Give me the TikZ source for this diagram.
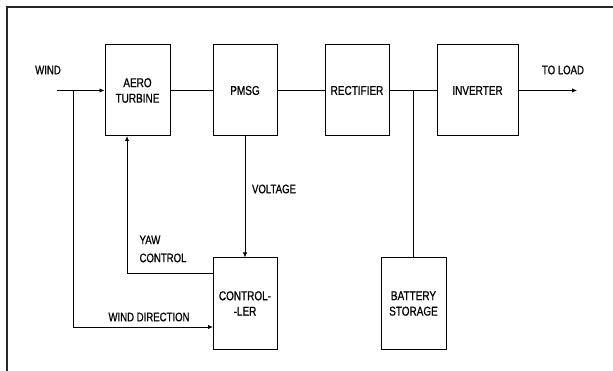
\documentclass[tikz,border=0pt]{standalone}
\usepackage{fontspec}
\setmainfont[FakeStretch=0.78,FakeBold=0.8]{Liberation Sans}
\usetikzlibrary{arrows.meta}
\begin{document}
\begin{tikzpicture}[x=1pt,y=-1pt,
  blk/.style={draw,line width=1pt,minimum height=91pt,inner sep=1pt,align=center,font=\fontsize{12.8}{15.5}\selectfont},
  lbl/.style={font=\fontsize{12.3}{18}\selectfont,inner sep=0pt,align=left},
  wire/.style={line width=0.9pt},
  arr/.style={wire,-{Latex[length=5pt,width=4.5pt]}}]
\useasboundingbox (0,0) rectangle (613,371);
\fill[white] (0,0) rectangle (613,371);
\draw[line width=2pt,black!85] (613,7) -- (7,7) -- (7,371);
\node[blk,minimum width=65pt] (aero) at (137.5,90.5) {AERO\\TURBINE};
\node[blk,minimum width=64pt] (pmsg) at (245,90.5) {PMSG};
\node[blk,minimum width=64pt] (rect) at (357,90.5) {RECTIFIER};
\node[blk,minimum width=81pt] (inv) at (477.5,90.5) {INVERTER};
\node[blk,minimum width=64pt] (ctrl) at (245,303.5) {CONTROL-\\-LER};
\node[blk,minimum width=65pt] (batt) at (413.5,303.5) {BATTERY\\STORAGE};
\coordinate (wstart) at (57,90.5);
\coordinate (wsplit) at (73,90.5);
\coordinate (wdend) at (213,327);
\coordinate (yawstart) at (213,273);
\coordinate (yawend) at (127,136);
\coordinate (bj) at (413.5,90.5);
\coordinate (load) at (577,90.5);
\draw[arr] (wstart) -- (aero.west);
\draw[arr] (wsplit) |- (wdend);
\draw[arr] (yawstart) -| (yawend);
\draw[wire] (aero.east) -- (pmsg.west);
\draw[wire] (pmsg.east) -- (rect.west);
\draw[wire] (rect.east) -- (inv.west);
\draw[arr] (inv.east) -- (load);
\draw[arr] (pmsg.south) -- (ctrl.north);
\draw[wire] (bj) -- (batt.north);
\node[lbl] (twind) at (48,70) {WIND};
\node[lbl] (tload) at (563,70) {TO LOAD};
\node[lbl] (tvolt) at (274,189) {VOLTAGE};
\node[lbl] (tyaw) at (163,249) {YAW\\CONTROL};
\node[lbl] (twd) at (149,317) {WIND DIRECTION};
\end{tikzpicture}
\end{document}
